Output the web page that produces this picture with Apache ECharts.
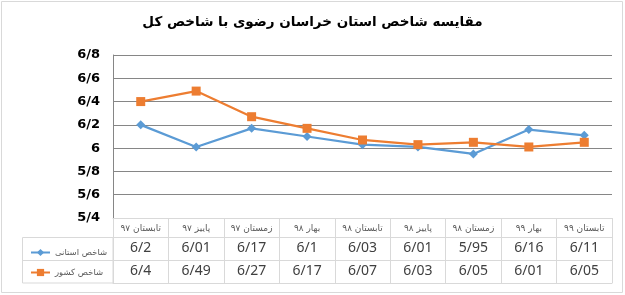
<!DOCTYPE html>
<html><head><meta charset="utf-8">
<script src="https://cdn.jsdelivr.net/npm/echarts@6/dist/echarts.min.js"></script>
<style>html,body{margin:0;padding:0;background:#fff}#c{width:625px;height:295px}</style>
</head><body><div id="c"></div>
<script>
const categories = ['تابستان ۹۷','پاییز ۹۷','زمستان ۹۷','بهار ۹۸','تابستان ۹۸','پاییز ۹۸','زمستان ۹۸','بهار ۹۹','تابستان ۹۹'];
const provincial = [6.2, 6.01, 6.17, 6.1, 6.03, 6.01, 5.95, 6.16, 6.11];
const national = [6.4, 6.49, 6.27, 6.17, 6.07, 6.03, 6.05, 6.01, 6.05];
const seriesNames = ['شاخص استانی', 'شاخص کشور'];
const yMin = 5.4, yMax = 6.8, yStep = 0.2;

const fmt = v => String(parseFloat(Number(v).toFixed(2))).replace('.', '/');
const border = '#d9d9d9';
const chart = echarts.init(document.getElementById('c'));
const tableAxis = (data, offset, show) => ({
  type: 'category', data: data, position: 'bottom', offset: offset, boundaryGap: true,
  axisLine: {show: true, lineStyle: {color: border, width: 1}},
  axisTick: {show: false},
  axisLabel: {show: show, interval: 0, fontSize: 14, color: '#404040', margin: 4, fontFamily: 'Noto Sans'}
});
chart.setOption({
  animation: false,
  title: {text: 'مقایسه شاخص استان خراسان رضوی با شاخص کل', left: 'center', top: 10,
    textStyle: {fontSize: 13.5, fontWeight: 'bold', color: '#000', fontFamily: 'DejaVu Sans'}},
  grid: {left: 113, right: 13, top: 55, bottom: 77, containLabel: false},
  legend: {orient: 'vertical', left: 25, top: 243, align: 'left', itemGap: 11, itemWidth: 19, itemHeight: 9,
    textStyle: {fontSize: 8.5, color: '#595959', fontFamily: 'DejaVu Sans'}, data: seriesNames},
  xAxis: [
    {type: 'category', data: categories, position: 'bottom', boundaryGap: true,
     axisLine: {show: true, lineStyle: {color: border}},
     axisTick: {show: true, interval: 0, length: 65, lineStyle: {color: border}},
     axisLabel: {interval: 0, fontSize: 9, color: '#595959', margin: 6, fontFamily: 'DejaVu Sans'}},
    tableAxis(provincial.map(fmt), 19, true),
    tableAxis(national.map(fmt), 42, true),
    tableAxis(categories.map(() => ''), 65, false)
  ],
  yAxis: {type: 'value', min: yMin, max: yMax, interval: yStep,
    axisLine: {show: true, lineStyle: {color: '#868686'}},
    axisTick: {show: false},
    splitLine: {lineStyle: {color: '#868686', width: 1}},
    axisLabel: {formatter: fmt, fontSize: 13, fontWeight: 'bold', color: '#000', margin: 13, fontFamily: 'DejaVu Sans'}},
  graphic: [
    {type: 'rect', shape: {x: 1.5, y: 1.5, width: 621, height: 291}, style: {fill: 'none', stroke: border, lineWidth: 1}, silent: true, z: -1},
    {type: 'rect', shape: {x: 22.5, y: 237.5, width: 90.5, height: 45.5}, style: {fill: 'none', stroke: border, lineWidth: 1}, silent: true},
    {type: 'line', shape: {x1: 22.5, y1: 260.5, x2: 113, y2: 260.5}, style: {stroke: border, lineWidth: 1}, silent: true}
  ],
  series: [
    {name: seriesNames[0], type: 'line', data: provincial, symbol: 'diamond', symbolSize: 9,
     lineStyle: {color: '#5B9BD5', width: 2.25}, itemStyle: {color: '#5B9BD5'}},
    {name: seriesNames[1], type: 'line', data: national, symbol: 'rect', symbolSize: 9,
     lineStyle: {color: '#ED7D31', width: 2.25}, itemStyle: {color: '#ED7D31'}}
  ]
});
</script></body></html>
